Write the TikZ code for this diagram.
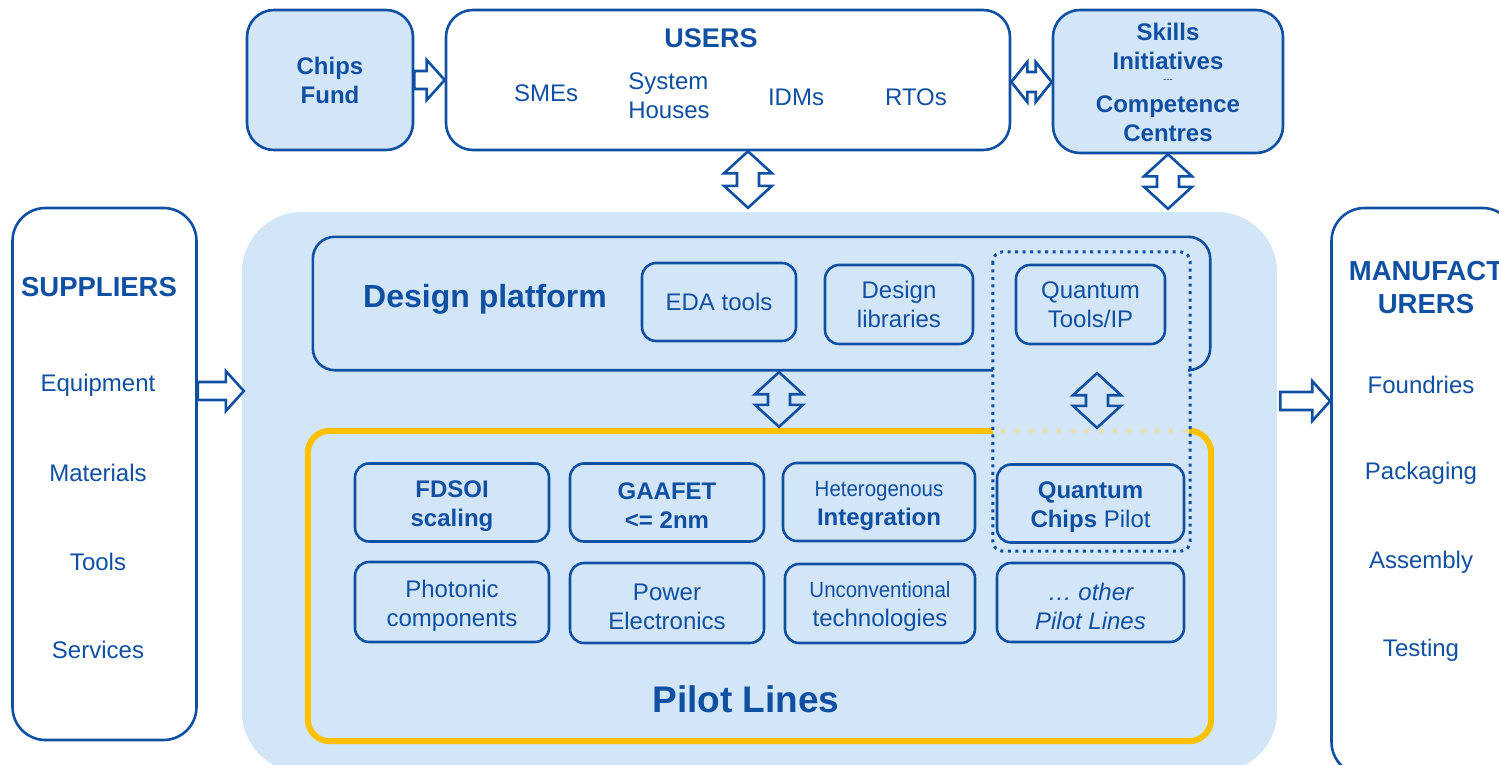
\documentclass[tikz,border=0pt]{standalone}
\usepackage{fontspec}
\setmainfont{Liberation Sans}
\newfontfamily\narrowsans[FakeStretch=0.93]{Liberation Sans}
\usetikzlibrary{calc}

\definecolor{ublue}{RGB}{16,80,162}
\definecolor{paleblue}{RGB}{211,230,247}
\definecolor{gold}{RGB}{255,192,0}
\definecolor{palegold}{RGB}{238,222,160}

% vertical two-headed block arrow from top point #1 to bottom point #2
\newcommand{\vbiarrow}[2]{%
  \draw[blockarrow] (#1) -- ($(#1)+(24,22)$) -- ($(#1)+(11,22)$)
    -- ($(#2)+(11,-22)$) -- ($(#2)+(24,-22)$) -- (#2)
    -- ($(#2)+(-24,-22)$) -- ($(#2)+(-11,-22)$)
    -- ($(#1)+(-11,22)$) -- ($(#1)+(-24,22)$) -- cycle;}
% horizontal two-headed block arrow from left point #1 to right point #2
\newcommand{\hbiarrow}[2]{%
  \draw[blockarrow] (#1) -- ($(#1)+(16,-20)$) -- ($(#1)+(16,-10)$)
    -- ($(#2)+(-16,-10)$) -- ($(#2)+(-16,-20)$) -- (#2)
    -- ($(#2)+(-16,20)$) -- ($(#2)+(-16,10)$)
    -- ($(#1)+(16,10)$) -- ($(#1)+(16,20)$) -- cycle;}
% one-headed block arrow pointing right, from tail #1 to tip #2
\newcommand{\rblockarrow}[2]{%
  \draw[blockarrow] ($(#1)+(0,-9)$) -- ($(#2)+(-18,-9)$) -- ($(#2)+(-18,-20)$)
    -- (#2) -- ($(#2)+(-18,20)$) -- ($(#2)+(-18,9)$) -- ($(#1)+(0,9)$) -- cycle;}

\begin{document}
\begin{tikzpicture}[
  x=1pt, y=-1pt,
  every node/.style={text=ublue, inner sep=0pt, align=center,
                     font=\fontsize{24}{29}\selectfont},
  frame/.style={draw=ublue, line width=2.6pt},
  topbox/.style={frame, rounded corners=27pt},
  sidebox/.style={frame, fill=white, rounded corners=33pt,
                  minimum width=184pt},
  cell/.style={frame, rounded corners=14pt, minimum height=78pt},
  celltext/.style={label={[yshift=-3.5pt]center:{#1}}},
  boldcelltext/.style={label={[boldtext, yshift=-3.5pt]center:{#1}}},
  blockarrow/.style={draw=ublue, line width=2.6pt, line join=miter},
  heading/.style={font=\fontsize{27.5}{33}\selectfont\bfseries},
  boldtext/.style={font=\fontsize{24}{29}\selectfont\bfseries},
]
\clip (0,0) rectangle (1499,765);
\useasboundingbox (0,0) rectangle (1499,765);
\fill[white] (0,0) rectangle (1499,765);

% shaded ecosystem core
\node[fill=paleblue, rounded corners=60pt, minimum width=1035pt,
      minimum height=560pt] (core) at (759.5,492) {};

% side columns
\node[sidebox, minimum height=532pt] (suppliers) at (104.5,474) {};
\node[sidebox, minimum height=567pt] (manufacturers) at (1423.5,491.5) {};

\node[heading] (supTitle) at (99,287) {SUPPLIERS};
\node (supEq)  at (98,385) {Equipment};
\node (supMat) at (98,473) {Materials};
\node (supTo)  at (98,562) {Tools};
\node (supSe)  at (98,650) {Services};

\node[heading] (manTitle) at (1426,287.5) {MANUFACT\\URERS};
\node (manFo) at (1421,385) {Foundries};
\node (manPa) at (1421,473) {Packaging};
\node (manAs) at (1421,562) {Assembly};
\node (manTe) at (1421,650) {Testing};

% top row
\node[topbox, fill=paleblue, boldtext, minimum width=166pt,
      minimum height=140pt] (fund) at (330,80) {Chips\\Fund};
\node[topbox, fill=white, minimum width=564pt, minimum height=140pt]
      (users) at (728,80) {};
\node[topbox, fill=paleblue, minimum width=230pt, minimum height=143pt]
      (skills) at (1168,81.5) {};

\node[font=\fontsize{27}{32}\selectfont\bfseries] (usersTitle) at (711,38) {USERS};
\node (uSme) at (546,93) {SMEs};
\node[align=left] (uSys) at (669,96) {System\\Houses};
\node (uIdm) at (796,97) {IDMs};
\node (uRto) at (916,97) {RTOs};

\node[boldtext] (skTop) at (1168,46.5) {Skills\\Initiatives};
\node[font=\fontsize{10}{12}\selectfont] (skSep) at (1168,81) {-{}-{}-};
\node[boldtext] (skBot) at (1168,119) {Competence\\Centres};

% quantum zone and the two platforms
\node[minimum width=197pt, minimum height=299pt] (qzone) at (1091.5,401.5) {};
\node[minimum width=897pt, minimum height=133pt] (design) at (761.5,303.5) {};
\node[minimum width=903pt, minimum height=310pt] (pilot) at (759.5,586) {};

\draw[frame, rounded corners=22pt]
  (qzone.west |- design.south) -- (design.south west) -- (design.north west)
  -- (design.north east) -- (design.south east) -- (qzone.east |- design.south);

\draw[gold, line width=6pt, rounded corners=22pt]
  (qzone.west |- pilot.north) -- (pilot.north west) -- (pilot.south west)
  -- (pilot.south east) -- (pilot.north east) -- (qzone.east |- pilot.north);
\draw[palegold, line width=4pt, dash pattern=on 4pt off 10pt]
  ($(qzone.west |- pilot.north)+(8,0)$) -- (qzone.east |- pilot.north);

\draw[draw=ublue, line width=3pt, dash pattern=on 3pt off 4.5pt,
      rounded corners=10pt]
  (qzone.north west) rectangle (qzone.south east);

\node[font=\fontsize{32}{38}\selectfont\bfseries] (designTitle) at (485,299) {Design platform};
\node[font=\fontsize{37}{44}\selectfont\bfseries] (pilotTitle) at (746,699) {Pilot Lines};

% design platform items
\node[cell, minimum width=154pt] (eda) at (719,302) {EDA tools};
\node[cell, minimum width=148pt, minimum height=79pt] (libs) at (899,304.5) {Design\\libraries};
\node[cell, minimum width=149pt, minimum height=79pt] (qtools) at (1090.5,304.5) {Quantum\\Tools/IP};

% pilot line items
\node[cell, minimum width=194pt, boldcelltext={FDSOI\\scaling}] (fdsoi) at (452,502.5) {};
\node[cell, minimum width=194pt, boldcelltext={GAAFET\\<= 2nm}] (gaafet) at (667,502.5) {};
\node[cell, minimum width=192pt,
      celltext={{\narrowsans\fontsize{22}{29}\selectfont Heterogenous}\\{\bfseries Integration}}]
      (hetero) at (879,502) {};
\node[cell, minimum width=187pt,
      celltext={{\bfseries Quantum}\\{\bfseries Chips} Pilot}] (qchips) at (1090.5,503.5) {};
\node[cell, minimum width=194pt, minimum height=80pt,
      celltext={Photonic\\components}] (photonic) at (452,602) {};
\node[cell, minimum width=194pt, minimum height=80pt,
      celltext={Power\\Electronics}] (power) at (667,603) {};
\node[cell, minimum width=190pt, minimum height=79pt,
      celltext={{\narrowsans\fontsize{22}{29}\selectfont Unconventional}\\technologies}]
      (uncon) at (880,603.5) {};
\node[cell, minimum width=187pt, minimum height=79pt,
      celltext={\itshape\ldots\ other\\\itshape Pilot Lines}] (other) at (1090.5,602.5) {};

% connectors
\rblockarrow{fund.east}{users.west}
\hbiarrow{users.east |- 0,82}{skills.west |- 0,82}

\coordinate (uT) at (748,0 |- users.south);
\coordinate (uB) at ($(748,0 |- core.north)+(0,-4)$);
\vbiarrow{uT}{uB}

\coordinate (sT) at (skills.south);
\coordinate (sB) at ($(skills.south |- core.north)+(0,-3)$);
\vbiarrow{sT}{sB}

\coordinate (dT) at ($(779,0 |- design.south)+(0,2)$);
\coordinate (dB) at ($(779,0 |- pilot.north)+(0,-4)$);
\vbiarrow{dT}{dB}

\coordinate (qT) at ($(1097,0 |- design.south)+(0,3)$);
\coordinate (qB) at ($(1097,0 |- pilot.north)+(0,-3)$);
\vbiarrow{qT}{qB}

\coordinate (supTail) at (suppliers.east |- 0,391);
\coordinate (supTip) at ($(core.west |- 0,391)+(2,0)$);
\rblockarrow{supTail}{supTip}

\coordinate (manTail) at ($(core.east |- 0,401)+(3,0)$);
\coordinate (manTip) at (manufacturers.west |- 0,401);
\rblockarrow{manTail}{manTip}
\end{tikzpicture}
\end{document}
